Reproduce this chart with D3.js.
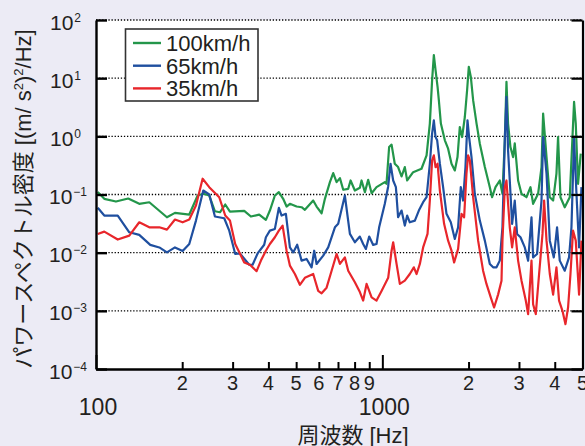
<!DOCTYPE html>
<html>
<head>
<meta charset="utf-8">
<script src="https://cdn.jsdelivr.net/npm/d3@7"></script>
<style>
  html, body { margin: 0; padding: 0; background: #ecebf5; }
  svg { display: block; }
</style>
</head>
<body>
<div id="chart"></div>
<script>
//***************************************************** */
// Power spectral density vs frequency, three speeds
//****************************************************** */

// frequency [Hz] and PSD [(m/s^2)^2/Hz]
var freq100 = [101.4, 106.9, 117.4, 129.6, 141.6, 153.5, 176.9, 188.7, 211.7, 226.5, 236.9, 248.6, 260.2, 270.9, 282.7, 293.6, 329.4, 347.5, 371.5, 392.0,
    404.8, 421.4, 435.1, 450.5, 463.0, 475.5, 501.8, 522.4, 536.4, 573.5, 589.3, 613.6, 630.1, 656.0, 673.6, 692.2, 710.9, 730, 759.9, 774.6,
    801.7, 834.6, 846.1, 869, 892.3, 917.3, 954.3, 1020, 1034, 1056, 1077, 1105, 1135, 1167, 1198, 1221, 1281, 1370, 1427, 1465,
    1492, 1513, 1534, 1559, 1575, 1601, 1653, 1697, 1744, 1791, 1830, 1864, 1899, 1941, 1977, 2004, 2037, 2075, 2133, 2190,
    2280, 2373, 2417, 2484, 2571, 2627, 2677, 2713, 2748, 2801, 2861, 2900, 2979, 3062, 3187, 3291, 3361, 3499, 3596, 3643,
    3744, 3844, 3948, 4055, 4108, 4188, 4335, 4513, 4672, 4736, 4824, 4930];
var psd100 = [0.11, 0.0843, 0.0757, 0.0853, 0.0692, 0.0736, 0.0406, 0.0483, 0.0452, 0.0961, 0.1028, 0.0961, 0.0515, 0.0495, 0.0673, 0.0509, 0.0524, 0.0418, 0.0452, 0.0366,
    0.053, 0.0961, 0.11, 0.0843, 0.0621, 0.0692, 0.0621, 0.0604, 0.0545, 0.0788, 0.0621, 0.0476, 0.0843, 0.163, 0.233, 0.163, 0.191, 0.1205, 0.1253, 0.1742,
    0.1172, 0.1306, 0.1742, 0.11, 0.179, 0.1052, 0.1337, 0.163, 0.1528, 0.655, 0.719, 0.338, 0.296, 0.204, 0.296, 0.1742, 0.242, 0.277, 0.47, 1.655,
    9.24, 24.9, 13.7, 7.08, 4.18, 1.655, 0.853, 0.614, 0.338, 0.259, 0.44, 1.445, 0.973, 2.15, 6.21, 15.7, 10.5, 4.18, 1.655, 0.748,
    0.296, 0.1337, 0.0898, 0.1337, 0.1742, 0.1028, 0.853, 8.63, 1.655, 0.655, 0.44, 0.757, 0.1742, 0.1028, 0.0898, 0.1337, 0.0692, 0.1028, 0.296, 2.46,
    0.44, 0.0898, 0.0788, 0.2275, 0.973, 0.0898, 0.0604, 0.0898, 3.9, 1.655, 0.1528, 0.503];

var freq65 = [101.4, 106.9, 119.1, 130.7, 141.6, 154.7, 166.4, 176.9, 188.7, 200.7, 211.7, 223.4, 236.9, 248.6, 260.2, 280.4, 292, 306.3, 318.1, 342.8,
    352.3, 366.8, 386.7, 392, 404.8, 421.4, 435.1, 444.8, 460.4, 475.5, 488.4, 504.2, 522.4, 543.8, 566.1, 578.1, 589.3, 621.6, 647, 682.8,
    701.2, 739.7, 770.4, 801.7, 834.6, 857.1, 876, 899.5, 928.9, 954.3, 974.6, 1020, 1048, 1068, 1091, 1115, 1135, 1167, 1198, 1221,
    1247, 1299, 1341, 1388, 1427, 1465, 1492, 1513, 1534, 1554, 1588, 1630, 1675, 1734, 1791, 1839, 1879, 1914, 1951, 1983,
    2009, 2048, 2103, 2190, 2280, 2373, 2437, 2504, 2571, 2627, 2677, 2713, 2748, 2786, 2839, 2900, 2954, 3037, 3144, 3229,
    3318, 3361, 3470, 3596, 3643, 3744, 3844, 3969, 4075, 4164, 4335, 4487, 4575, 4672, 4763, 4864, 4958];
var psd65 = [0.059, 0.0435, 0.0435, 0.0224, 0.0202, 0.0136, 0.0123, 0.0101, 0.0123, 0.0107, 0.0141, 0.0356, 0.117, 0.1, 0.0418, 0.039, 0.0239, 0.0095, 0.0097, 0.0062,
    0.0062, 0.0097, 0.0137, 0.0184, 0.0239, 0.0256, 0.059, 0.0435, 0.0465, 0.0123, 0.0101, 0.0137, 0.0073, 0.0078, 0.0056, 0.0108, 0.0064, 0.0089, 0.0123, 0.0273,
    0.0313, 0.0961, 0.021, 0.0151, 0.0189, 0.0141, 0.0116, 0.0189, 0.0136, 0.0141, 0.0273, 0.0692, 0.1374, 0.338, 0.1742, 0.1337, 0.0406, 0.053, 0.0292, 0.0435,
    0.0333, 0.0356, 0.053, 0.0736, 0.0898, 0.338, 1.114, 1.888, 0.973, 0.853, 0.338, 0.1337, 0.0465, 0.0333, 0.0172, 0.0273, 0.1337, 0.0788, 0.296, 1.888,
    0.973, 0.44, 0.1028, 0.0356, 0.0161, 0.0064, 0.0056, 0.0056, 0.0073, 0.0273, 0.853, 4.76, 0.574, 0.1742, 0.0313, 0.0788, 0.021, 0.0184, 0.0123, 0.0073,
    0.0406, 0.0083, 0.0095, 0.0788, 0.973, 0.2275, 0.0161, 0.0083, 0.0273, 0.0073, 0.0049, 0.0083, 0.0273, 0.912, 0.1028, 0.0123, 0.1337];

var freq35 = [101.4, 106.9, 119.1, 130.7, 141.6, 153.5, 166.4, 176.9, 188.7, 200.7, 211.7, 223.4, 235.7, 248.6, 269.4, 282.7, 293.6, 306.3, 329.4, 344.7,
    363.8, 376.7, 392, 404.8, 421.4, 435.1, 448.4, 463, 475.5, 495, 515.2, 536.4, 573.5, 597, 613.6, 638.7, 665, 692.2, 710.9, 739.7,
    759.9, 801.7, 834.6, 857.1, 880.8, 917.3, 954.3, 993.6, 1048, 1077, 1091, 1121, 1151, 1198, 1247, 1288, 1317, 1352, 1388, 1438,
    1465, 1492, 1513, 1534, 1559, 1588, 1643, 1697, 1744, 1781, 1839, 1890, 1930, 1967, 1993, 2021, 2075, 2160, 2248, 2310,
    2391, 2456, 2536, 2607, 2627, 2677, 2713, 2786, 2839, 2900, 2979, 3062, 3169, 3229, 3318, 3361, 3434, 3527, 3625, 3672,
    3744, 3844, 3948, 4055, 4141, 4256, 4360, 4452, 4539, 4634, 4736, 4864, 4958];
var psd35 = [0.021, 0.023, 0.0168, 0.0196, 0.0333, 0.0273, 0.0273, 0.0249, 0.0371, 0.0333, 0.0371, 0.0646, 0.1866, 0.1337, 0.0898, 0.0435, 0.0356, 0.0141, 0.0068, 0.0062,
    0.0048, 0.0073, 0.0108, 0.0141, 0.0184, 0.0239, 0.0292, 0.0108, 0.006, 0.0043, 0.0028, 0.0037, 0.0043, 0.0022, 0.002, 0.0025, 0.0049, 0.0095, 0.0064, 0.0083,
    0.0049, 0.0031, 0.0021, 0.0015, 0.0029, 0.0017, 0.0015, 0.0022, 0.0037, 0.0108, 0.0151, 0.0064, 0.0029, 0.0033, 0.0043, 0.0056, 0.0043, 0.0064, 0.0123, 0.021,
    0.0788, 0.385, 0.47, 0.296, 0.338, 0.117, 0.0313, 0.0161, 0.0108, 0.0068, 0.0116, 0.0465, 0.0406, 0.2275, 0.47, 0.385, 0.0898, 0.0161, 0.0049, 0.0029,
    0.0017, 0.00114, 0.0019, 0.0033, 0.0161, 0.1337, 0.1742, 0.0273, 0.0123, 0.0273, 0.0073, 0.0033, 0.0015, 0.00088, 0.0073, 0.0013, 0.00088, 0.0043, 0.021, 0.0788,
    0.0161, 0.0043, 0.0019, 0.0056, 0.0015, 0.001, 0.00059, 0.00114, 0.0043, 0.0239, 0.0161, 0.0019, 0.0161];

var seriesNames = ["100km/h", "65km/h", "35km/h"];
var seriesColors = ["#23964a", "#1f4f9f", "#e8262b"];

// axis ticks
var yExponents = [2, 1, 0, -1, -2, -3, -4];
var xMinorTicks = [200, 300, 400, 500, 600, 700, 800, 900, 2000, 3000, 4000, 5000];
var xMinorLabels = ["2", "3", "4", "5", "6", "7", "8", "9", "2", "3", "4", "5"];
var xMajorTicks = [100, 1000];
var xMajorLabels = ["100", "1000"];

var width = 585;
var height = 446;
var labelFont = "'Liberation Sans', Arial, 'Noto Sans CJK JP', sans-serif";
var textColor = "#231f20";

var svg = d3.select('#chart')
    .append("svg")
    .attr("width", width)
    .attr("height", height)

svg.append("rect")
    .attr("width", width)
    .attr("height", height)
    .attr("fill", "#ecebf5")

// scales
var xScale = d3.scaleLog().domain([100, 5000]).range([96, 582.5]);
var yScale = d3.scaleLog().domain([1e-4, 1e2]).range([369, 20]);

var x0 = xScale.range()[0], x1 = xScale.range()[1];
var yTop = yScale(1e2), yBot = yScale(1e-4);

// white plot area
svg.append("rect")
    .attr("x", x0)
    .attr("y", yTop)
    .attr("width", x1 - x0)
    .attr("height", yBot - yTop)
    .attr("fill", "#fff")

svg.append("clipPath")
    .attr("id", "plotClip")
    .append("rect")
    .attr("x", x0)
    .attr("y", yTop - 2)
    .attr("width", x1 - x0)
    .attr("height", yBot - yTop + 2)

// dotted grid at each decade
svg.append("g")
    .selectAll("line")
    .data(yExponents.filter(e => e > -4))
    .enter()
    .append("line")
    .attr("x1", x0)
    .attr("x2", x1)
    .attr("y1", d => yScale(Math.pow(10, d)))
    .attr("y2", d => yScale(Math.pow(10, d)))
    .attr("stroke", "#000")
    .attr("stroke-width", 1.4)
    .attr("stroke-dasharray", "1.3,1.8")

// lines
var series = [
    { name: seriesNames[0], f: freq100, v: psd100, color: seriesColors[0] },
    { name: seriesNames[1], f: freq65, v: psd65, color: seriesColors[1] },
    { name: seriesNames[2], f: freq35, v: psd35, color: seriesColors[2] }
];

var line = d3.line()
    .x(d => xScale(d[0]))
    .y(d => yScale(d[1]));

svg.append("g")
    .attr("clip-path", "url(#plotClip)")
    .selectAll("path")
    .data(series)
    .enter()
    .append("path")
    .attr("fill", "none")
    .attr("stroke", d => d.color)
    .attr("stroke-width", 2.2)
    .attr("stroke-linejoin", "round")
    .attr("d", d => line(d.f.map((f, i) => [f, d.v[i]])))

// axes, ticks pointing inward
var yTickVals = yExponents.map(e => Math.pow(10, e));

svg.append("g")
    .attr("transform", `translate(${x0}, 0)`)
    .call(d3.axisLeft(yScale).tickValues(yTickVals).tickSizeInner(-11).tickSizeOuter(0).tickFormat(""))
    .call(g => g.selectAll("path, line").attr("stroke", "#000").attr("stroke-width", 2.4))

svg.append("g")
    .attr("transform", `translate(${x1}, 0)`)
    .call(d3.axisRight(yScale).tickValues(yTickVals).tickSizeInner(-11).tickSizeOuter(0).tickFormat(""))
    .call(g => g.selectAll("path, line").attr("stroke", "#000").attr("stroke-width", 2.2))

svg.append("g")
    .attr("transform", `translate(0, ${yBot})`)
    .call(d3.axisBottom(xScale).tickValues(xMinorTicks).tickSizeInner(-7).tickSizeOuter(0).tickFormat(""))
    .call(g => g.selectAll("path, line").attr("stroke", "#000").attr("stroke-width", 2))

svg.append("g")
    .attr("transform", `translate(0, ${yBot})`)
    .call(d3.axisBottom(xScale).tickValues(xMajorTicks).tickSizeInner(-14).tickSizeOuter(0).tickFormat(""))
    .call(g => g.selectAll("path, line").attr("stroke", "#000").attr("stroke-width", 2))

// y tick labels 10^n
var yLab = svg.append("g")
    .selectAll("text")
    .data(yExponents)
    .enter()
    .append("text")
    .attr("x", d => d < 0 ? 87 : 81)
    .attr("y", d => yScale(Math.pow(10, d)) + 9.5)
    .attr("text-anchor", "end")
    .style("font-family", labelFont)
    .style("font-size", "21px")
    .style("fill", textColor)

yLab.append("tspan").text("10")
yLab.append("tspan")
    .attr("dy", -8)
    .attr("dx", 1)
    .style("font-size", "12px")
    .text(d => d < 0 ? "\u2212" + Math.abs(d) : d)

// x tick labels
svg.append("g")
    .selectAll("text")
    .data(xMinorTicks)
    .enter()
    .append("text")
    .attr("x", d => xScale(d))
    .attr("y", yBot + 21)
    .attr("text-anchor", "middle")
    .style("font-family", labelFont)
    .style("font-size", "20px")
    .style("fill", textColor)
    .text((d, i) => xMinorLabels[i])

svg.append("g")
    .selectAll("text")
    .data(xMajorTicks)
    .enter()
    .append("text")
    .attr("x", d => xScale(d) + 2)
    .attr("y", yBot + 46)
    .attr("text-anchor", "middle")
    .style("font-family", labelFont)
    .style("font-size", "23px")
    .style("fill", textColor)
    .text((d, i) => xMajorLabels[i])

// axis titles
svg.append("text")
    .attr("x", 353)
    .attr("y", 443)
    .attr("text-anchor", "middle")
    .style("font-family", labelFont)
    .style("font-size", "22px")
    .style("fill", textColor)
    .text("周波数 [Hz]")

var yTitle = svg.append("text")
    .attr("transform", "translate(31, 199) rotate(-90)")
    .attr("text-anchor", "middle")
    .style("font-family", labelFont)
    .style("font-size", "22px")
    .style("fill", textColor)

yTitle.append("tspan").text("パワースペクトル密度 [(m/ s")
yTitle.append("tspan").attr("dy", -8).style("font-size", "13px").text("2")
yTitle.append("tspan").attr("dy", 8).text(")")
yTitle.append("tspan").attr("dy", -8).style("font-size", "13px").text("2")
yTitle.append("tspan").attr("dy", 8).text("/Hz]")

// legend
var legendG = svg.append("g")

legendG.append("rect")
    .attr("x", 125.5)
    .attr("y", 29)
    .attr("width", 132.5)
    .attr("height", 72)
    .attr("fill", "#fff")
    .attr("stroke", "#333")
    .attr("stroke-width", 1.6)

var legendItem = legendG.selectAll(".legend")
    .data(series)
    .enter()
    .append("g")
    .attr("class", "legend")
    .attr("transform", (d, i) => `translate(0, ${43 + i * 22.7})`)

legendItem.append("line")
    .attr("x1", 133)
    .attr("x2", 161)
    .attr("stroke", d => d.color)
    .attr("stroke-width", 2.4)

legendItem.append("text")
    .attr("x", 166)
    .attr("y", 8)
    .style("font-family", labelFont)
    .style("font-size", "22px")
    .style("fill", textColor)
    .text(d => d.name)
</script>
</body>
</html>
